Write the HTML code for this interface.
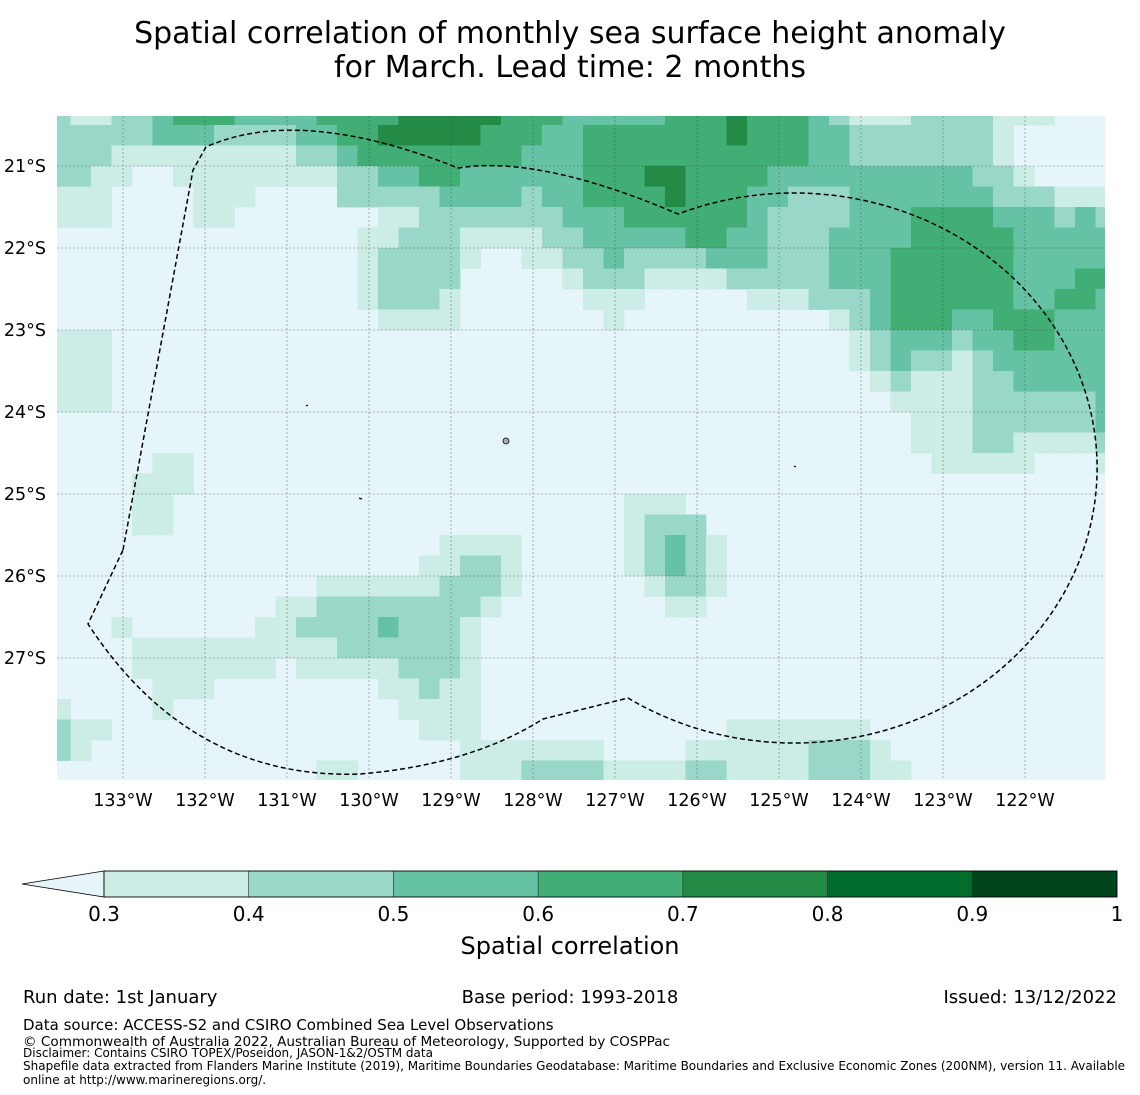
<!DOCTYPE html>
<html><head><meta charset="utf-8"><style>
html,body{margin:0;padding:0;background:#fff;}
svg{display:block;font-family:"DejaVu Sans","Liberation Sans",sans-serif;}
</style></head><body>
<svg id="chart" width="1140" height="1095" viewBox="0 0 1140 1095" xmlns="http://www.w3.org/2000/svg">
<text x="570" y="43" font-size="30" text-anchor="middle">Spatial correlation of monthly sea surface height anomaly</text>
<text x="570" y="77" font-size="30" text-anchor="middle">for March. Lead time: 2 months</text>
<defs><clipPath id="mapclip"><rect x="57" y="116" width="1048" height="664"/></clipPath></defs>
<rect x="57" y="116" width="1048" height="664" fill="#e5f5f9"/>
<g id="cells" clip-path="url(#mapclip)"></g>
<g id="grid"></g>
<g id="islands">
<circle cx="506" cy="441" r="3" fill="#aaa" stroke="#000" stroke-width="0.8"/>
<line x1="306" y1="406" x2="308" y2="405" stroke="#000" stroke-width="1.2"/>
<line x1="794" y1="466" x2="796" y2="467" stroke="#000" stroke-width="1.2"/>
<line x1="359" y1="498" x2="362" y2="499" stroke="#000" stroke-width="1.2"/>
</g>
<path d="M123,550 L193,170 L206,147 Q300,105 458,168 Q540,155 678,214 A303 275 0 1 1 628,698 L543,719 Q470,765 360,774 Q190,780 88,624 Z" fill="none" stroke="#000" stroke-width="1.5" stroke-dasharray="5,3"/>
<g id="xlabels"></g>
<g id="ylabels"></g>
<g id="colorbar"></g>
<text x="570" y="954" font-size="24" text-anchor="middle">Spatial correlation</text>
<text x="23" y="1003" font-size="18">Run date: 1st January</text>
<text x="570" y="1003" font-size="18" text-anchor="middle">Base period: 1993-2018</text>
<text x="1117" y="1003" font-size="18" text-anchor="end">Issued: 13/12/2022</text>
<text x="23" y="1030" font-size="15">Data source: ACCESS-S2 and CSIRO Combined Sea Level Observations</text>
<text x="23" y="1046" font-size="13.6">© Commonwealth of Australia 2022, Australian Bureau of Meteorology, Supported by COSPPac</text>
<text x="23" y="1057" font-size="12">Disclaimer: Contains CSIRO TOPEX/Poseidon, JASON-1&amp;2/OSTM data</text>
<text x="23" y="1070" font-size="12">Shapefile data extracted from Flanders Marine Institute (2019), Maritime Boundaries Geodatabase: Maritime Boundaries and Exclusive Economic Zones (200NM), version 11. Available</text>
<text x="23" y="1084" font-size="12">online at http://www.marineregions.org/.</text>
</svg>
<script>
// Data: correlation classes per grid row (run-length: value-index x count)
const levelValues = [0.2, 0.35, 0.45, 0.55, 0.65, 0.75];
const gridRows = [
"2 1x2 2x2 3 4x3 3x4 4x4 5x5 4x3 3x5 4x3 5 4x3 3 2 1x3 2x4 1x3 0x3",
"2x5 3x3 2x4 3x2 4x2 5x5 4x3 3x2 4x7 5 4x3 3x2 2x7 1 0x5",
"2x3 1x9 2x2 3 4x8 3x3 4x11 3x2 2x7 1 0x5",
"2x2 1x2 0x2 1x8 2x2 3x2 4x2 3x6 4x3 5x2 4x4 3x10 2x2 1 0x4",
"1x3 0x4 1x3 0x4 2x3 2x2 3x4 2 3x2 4x4 5 4x3 3x2 2x3 3x7 2x3 1x3",
"1x3 0x4 1x2 0x7 1x2 2x7 3x3 4x6 3 2x4 3x3 4x4 3x3 2 3 2",
"0x15 1x2 2x3 1x4 2x2 3x5 4x2 3x2 2x3 3x4 4x5 3x5",
"0x15 1 2x4 1 0x2 1x2 2x2 3 2x4 3x3 2x3 3x3 4x6 3x5",
"0x15 1 2x4 0x5 1 2x3 1x4 2x5 3x3 4x6 3x3 4x2",
"0x15 1 2x3 1 0x6 1x3 0x5 1x3 2x3 3 4x6 3x2 4x2 3",
"0x16 1x4 0x7 1 0x10 1 2 3 4x3 3x2 4x3 3x3",
"1x3 0x36 1 2 3x3 2 3x2 4x2 3x3",
"1x3 0x36 1 2 3 2x2 1 2 3x6",
"1x3 0x37 1 2 1x3 2x2 3x5",
"1x3 0x38 1x4 2x6 3",
"0x42 1x3 2x6 3",
"0x42 1x3 2x2 1x4 2",
"0x5 1x2 0x36 1x5 0x3 1",
"0x4 1x3 0x45",
"0x4 1x2 0x22 1x3 0x21",
"0x4 1x2 0x22 1 2x3 0x20",
"0x19 1x4 0x5 1 2 3 2 1 0x19",
"0x18 1x2 2x2 1 0x5 1 2 3 2 1 0x19",
"0x13 1x6 2x3 1 0x6 1 2x2 1 0x19",
"0x11 1x2 2x8 1 0x8 1x2 0x20",
"0x3 1 0x6 1x2 2x4 3 2x3 1 0x31",
"0x4 1x10 2x6 1 0x31",
"0x4 1x7 0 1x5 2x3 1 0x31",
"0x5 1x3 0x8 1x2 2 1x2 0x31",
"1 0x4 1 0x11 1x4 0x31",
"2 1x2 0x15 1x3 0x12 1x7 0x12",
"2 1 0x18 1x7 0x4 1x6 2x3 1 0x11",
"0x13 1x2 0x5 1x3 2x4 1x4 2x2 1x4 2x3 1x2 0x10"
];
const lonLabels = ["133°W","132°W","131°W","130°W","129°W","128°W","127°W","126°W","125°W","124°W","123°W","122°W"];
const lonValues = [-133,-132,-131,-130,-129,-128,-127,-126,-125,-124,-123,-122];
const latLabels = ["21°S","22°S","23°S","24°S","25°S","26°S","27°S"];
const latValues = [-21,-22,-23,-24,-25,-26,-27];
const cbBounds = [0.3,0.4,0.5,0.6,0.7,0.8,0.9,1.0];
const cbTickLabels = ["0.3","0.4","0.5","0.6","0.7","0.8","0.9","1"];
const cbColors = ["#ccece6","#99d8c9","#66c2a4","#41ae76","#238b45","#006d2c","#00441b"];

const NS = "http://www.w3.org/2000/svg";
const PX = 82;
function xScale(lon){ return 123 + (lon + 133) * PX; }
function yScale(lat){ return 166 + (-21 - lat) * PX; }
const cellDeg = 0.25;
const lon0 = -133 - (123 - 50) / PX;
const lat0 = -21 + (166 - 104.5) / PX;
function colorFor(v){
  if (v < 0.3) return "#e5f5f9";
  for (let i = 0; i < cbColors.length; i++) if (v < cbBounds[i+1]) return cbColors[i];
  return cbColors[cbColors.length-1];
}
function expand(s){
  const out = [];
  s.split(" ").forEach(tok => {
    const p = tok.split("x"); const n = p.length > 1 ? +p[1] : 1;
    for (let i = 0; i < n; i++) out.push(levelValues[+p[0]]);
  });
  return out;
}
const cells = document.getElementById("cells");
gridRows.forEach((row, r) => {
  expand(row).forEach((v, c) => {
    if (v < 0.3) return;
    const x1 = xScale(lon0 + c * cellDeg), x2 = xScale(lon0 + (c + 1) * cellDeg);
    const y1 = yScale(lat0 - r * cellDeg), y2 = yScale(lat0 - (r + 1) * cellDeg);
    const el = document.createElementNS(NS, "rect");
    el.setAttribute("x", x1); el.setAttribute("y", y1);
    el.setAttribute("width", x2 - x1 + 0.4); el.setAttribute("height", y2 - y1 + 0.4);
    el.setAttribute("fill", colorFor(v));
    
    
    cells.appendChild(el);
  });
});
const grid = document.getElementById("grid");
const xl = document.getElementById("xlabels");
lonValues.forEach((lon, i) => {
  const x = xScale(lon);
  const l = document.createElementNS(NS, "line");
  l.setAttribute("x1", x); l.setAttribute("x2", x); l.setAttribute("y1", 116); l.setAttribute("y2", 780);
  l.setAttribute("stroke", "rgba(60,60,60,0.45)"); l.setAttribute("stroke-width", "0.8"); l.setAttribute("stroke-dasharray", "2,2");
  
  
  grid.appendChild(l);
  const t = document.createElementNS(NS, "text");
  t.setAttribute("x", x); t.setAttribute("y", 806); t.setAttribute("font-size", "17.5"); t.setAttribute("text-anchor", "middle");
  t.textContent = lonLabels[i];
  
  
  xl.appendChild(t);
});
const yl = document.getElementById("ylabels");
latValues.forEach((lat, i) => {
  const y = yScale(lat);
  const l = document.createElementNS(NS, "line");
  l.setAttribute("x1", 57); l.setAttribute("x2", 1105); l.setAttribute("y1", y); l.setAttribute("y2", y);
  l.setAttribute("stroke", "rgba(60,60,60,0.45)"); l.setAttribute("stroke-width", "0.8"); l.setAttribute("stroke-dasharray", "2,2");
  
  
  grid.appendChild(l);
  const t = document.createElementNS(NS, "text");
  t.setAttribute("x", 46); t.setAttribute("y", y + 6); t.setAttribute("font-size", "17.5"); t.setAttribute("text-anchor", "end");
  t.textContent = latLabels[i];
  
  
  yl.appendChild(t);
});
const cb = document.getElementById("colorbar");
const cbX0 = 104, cbX1 = 1117, cbY = 871, cbH = 26;
function cbScale(v){ return cbX0 + (v - 0.3) / 0.7 * (cbX1 - cbX0); }
const tri = document.createElementNS(NS, "polygon");
tri.setAttribute("points", `${cbX0},${cbY} 22,${cbY + cbH/2} ${cbX0},${cbY + cbH}`);
tri.setAttribute("fill", "#e5f5f9"); tri.setAttribute("stroke", "#000"); tri.setAttribute("stroke-width", "0.8");


cb.appendChild(tri);
cbColors.forEach((col, i) => {
  const r = document.createElementNS(NS, "rect");
  const a = cbScale(cbBounds[i]), b = cbScale(cbBounds[i+1]);
  r.setAttribute("x", a); r.setAttribute("y", cbY); r.setAttribute("width", b - a); r.setAttribute("height", cbH);
  r.setAttribute("fill", col); r.setAttribute("stroke", "#333"); r.setAttribute("stroke-width", "0.6");
  
  
  cb.appendChild(r);
});
cbBounds.forEach((v, i) => {
  const t = document.createElementNS(NS, "text");
  t.setAttribute("x", cbScale(v)); t.setAttribute("y", 921); t.setAttribute("font-size", "20"); t.setAttribute("text-anchor", "middle");
  t.textContent = cbTickLabels[i];
  
  
  cb.appendChild(t);
});
const fr = document.createElementNS(NS, "rect");
fr.setAttribute("x", cbX0); fr.setAttribute("y", cbY); fr.setAttribute("width", cbX1 - cbX0); fr.setAttribute("height", cbH);
fr.setAttribute("fill", "none"); fr.setAttribute("stroke", "#000"); fr.setAttribute("stroke-width", "0.8");


cb.appendChild(fr);
</script>
</body></html>
